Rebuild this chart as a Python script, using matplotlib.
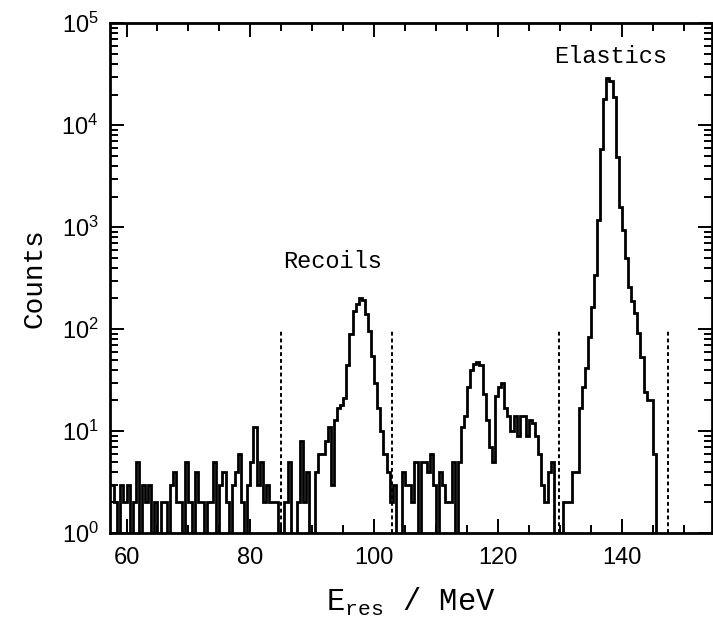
import numpy as np
import matplotlib
matplotlib.use("Agg")
from matplotlib import pyplot
from matplotlib.ticker import MultipleLocator, LogLocator

# histogram: 0.5 MeV bins starting at 57.5 MeV
bin_start = 57.5
bin_width = 0.5
counts = [
    # 57.5 - 67.0
    3, 2, 0, 3, 2, 3, 0, 2, 5, 0, 3, 2, 3, 0, 2, 0, 2, 2, 0,
    # 67.0 - 77.0
    3, 4, 2, 2, 0, 5, 2, 0, 4, 2, 2, 0, 2, 2, 5, 0, 3, 4, 2, 0,
    # 77.0 - 88.0
    3, 4, 6, 2, 0, 3, 5, 11, 3, 5, 2, 3, 2, 2, 2, 1, 0, 2, 5, 0, 0, 2,
    # 88.0 - 95.0
    8, 2, 4, 0, 0, 4, 6, 6, 8, 11, 3, 13, 17, 18,
    # 95.0 - 103.0 (recoils)
    21, 45, 90, 150, 175, 200, 195, 140, 95, 55, 30, 17, 10, 6, 4, 2,
    # 103.0 - 114.0
    3, 0, 0, 4, 3, 3, 2, 5, 0, 5, 5, 4, 6, 3, 0, 4, 3, 2, 2, 5, 0, 5,
    # 114.0 - 131.0
    11, 14, 27, 40, 46, 48, 45, 23, 13, 7, 5, 22, 27, 30, 17, 14, 10, 14,
    9, 14, 14, 9, 13, 12, 9, 6, 3, 2, 4, 5, 0, 1, 1, 2,
    # 131.0 - 146.0 (elastics)
    2, 2, 4, 4, 17, 27, 42, 83, 165, 340, 1170, 5900, 18000, 29000, 27000,
    18700, 4900, 1580, 930, 500, 260, 190, 145, 91, 53, 24, 20, 20, 6, 0,
    # 146.0 - 150.0
    0, 0, 0, 0, 0, 0, 0, 0,
]
cut_positions = [85.0, 102.9, 129.8, 147.4]
cut_height = 100

counts = np.array(counts, dtype=float)
edges = bin_start + bin_width * np.arange(len(counts) + 1)
shown = np.where(counts > 0, counts, 0.1)

figure = pyplot.figure(figsize=(7.13, 6.28), dpi=100)
ax = figure.add_axes([0.154, 0.151, 0.845, 0.812])

ax.stairs(shown, edges, baseline=None, color="black", linewidth=2.0)
ax.vlines(cut_positions, 1, cut_height, colors="black", linestyles=(0, (2.0, 1.5)),
          linewidth=1.4)

ax.set_yscale("log")
ax.set_xlim(57.3, 154.6)
ax.set_ylim(1, 1e5)

ax.xaxis.set_major_locator(MultipleLocator(20))
ax.xaxis.set_minor_locator(MultipleLocator(5))
ax.yaxis.set_major_locator(LogLocator(base=10, numticks=10))
ax.yaxis.set_minor_locator(LogLocator(base=10, subs=np.arange(2, 10), numticks=10))
ax.tick_params(which="both", direction="in", top=True, right=True, width=1.4)
ax.tick_params(which="major", length=10, labelsize=17)
ax.tick_params(axis="x", which="major", pad=10)
ax.tick_params(axis="y", which="major", pad=8)
ax.tick_params(which="minor", length=6)
for label in ax.get_xticklabels() + ax.get_yticklabels():
    label.set_family("Liberation Sans")
for spine in ax.spines.values():
    spine.set_linewidth(2.0)

mono = "Liberation Mono"
ax.set_ylabel("Counts", family=mono, fontsize=20, labelpad=10)
ax.set_xlabel(r"E$_{\mathdefault{res}}$ / MeV", family=mono, fontsize=22, labelpad=12)
ax.text(93.2, 457, "Recoils", family=mono, fontsize=17, ha="center", va="center")
ax.text(138.2, 46800, "Elastics", family=mono, fontsize=17, ha="center", va="center")

pyplot.savefig("out.png", dpi=100)
